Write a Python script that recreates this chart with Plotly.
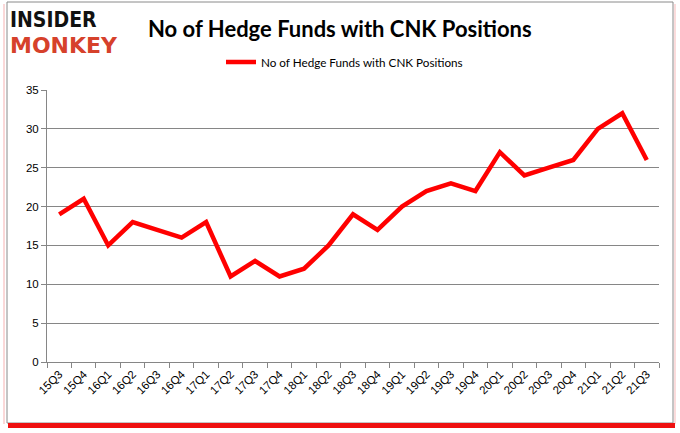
import plotly.graph_objects as go

quarters = ["15Q3", "15Q4", "16Q1", "16Q2", "16Q3", "16Q4", "17Q1", "17Q2", "17Q3",
            "17Q4", "18Q1", "18Q2", "18Q3", "18Q4", "19Q1", "19Q2", "19Q3", "19Q4",
            "20Q1", "20Q2", "20Q3", "20Q4", "21Q1", "21Q2", "21Q3"]
funds = [19, 21, 15, 18, 17, 16, 18, 11, 13, 11, 12, 15, 19, 17, 20, 22, 23, 22,
         27, 24, 25, 26, 30, 32, 26]
series_name = "No of Hedge Funds with CNK Positions"
title_text = "No of Hedge Funds with CNK Positions"

L, R, T, B = 47, 21, 90, 71
W, H = 680, 433
pw, ph = W - L - R, H - T - B

def px(x):
    return (x - L) / pw

def py(y):
    return (H - B - y) / ph

fig = go.Figure()
fig.add_trace(go.Scatter(
    x=quarters, y=funds, mode="lines", name=series_name,
    line=dict(color="#ff0000", width=4.5),
))

fig.update_layout(
    width=W, height=H,
    margin=dict(l=L, r=R, t=T, b=B, autoexpand=False),
    paper_bgcolor="white", plot_bgcolor="white",
    font=dict(family="Liberation Sans, Arial, sans-serif", size=11, color="#000000"),
    showlegend=True,
    legend=dict(orientation="h", x=px(221), xanchor="left", y=py(62), yanchor="middle",
                font=dict(family="Lato, sans-serif", size=11.7), bgcolor="rgba(0,0,0,0)"),
    xaxis=dict(
        type="category", range=[-0.5, len(quarters) - 0.5],
        showgrid=False, showline=True, linecolor="#868686", linewidth=1,
        ticks="outside", tickson="boundaries", ticklen=5, tickcolor="#868686",
        tickangle=-45, tickfont=dict(size=11.5),
    ),
    yaxis=dict(
        range=[0, 35], dtick=5, showgrid=True, gridcolor="#868686", gridwidth=1,
        showline=True, linecolor="#868686", linewidth=1,
        ticks="outside", ticklen=5, tickcolor="#868686", tickfont=dict(size=11.5),
        zeroline=False,
    ),
)

# title
fig.add_annotation(text="<b>" + title_text + "</b>", xref="paper", yref="paper",
                   x=px(340), y=py(29), xanchor="center", yanchor="middle",
                   showarrow=False, font=dict(family="Lato, sans-serif", size=22, color="#000000"))

# logo
fig.add_annotation(text="<b>INSIDER</b>", xref="paper", yref="paper",
                   x=px(8), y=py(20), xanchor="left", yanchor="middle", showarrow=False,
                   font=dict(family="DejaVu Sans Condensed, DejaVu Sans", size=21, color="#111111"))
fig.add_annotation(text="<b>MONKEY</b>", xref="paper", yref="paper",
                   x=px(8), y=py(46), xanchor="left", yanchor="middle", showarrow=False,
                   font=dict(family="DejaVu Sans", size=22, color="#d6412b"))

# frame
fig.add_shape(type="line", xref="paper", yref="paper",
              x0=px(4), x1=px(4), y0=py(424), y1=py(4),
              line=dict(color="#fbd8d8", width=2), layer="below")
fig.add_shape(type="line", xref="paper", yref="paper",
              x0=px(675), x1=px(675), y0=py(424), y1=py(4),
              line=dict(color="#fbdcdc", width=2), layer="below")
fig.add_shape(type="rect", xref="paper", yref="paper",
              x0=px(7), x1=px(673), y0=py(423), y1=py(2),
              line=dict(color="#8a8a8a", width=1), layer="below")
fig.add_shape(type="line", xref="paper", yref="paper",
              x0=px(8), x1=px(675), y0=py(425.5), y1=py(425.5),
              line=dict(color="#ee1010", width=5), layer="below")

fig.write_html("out.html", config={"displayModeBar": False},
               post_script="document.body.style.margin='0';document.body.style.overflow='hidden';")
